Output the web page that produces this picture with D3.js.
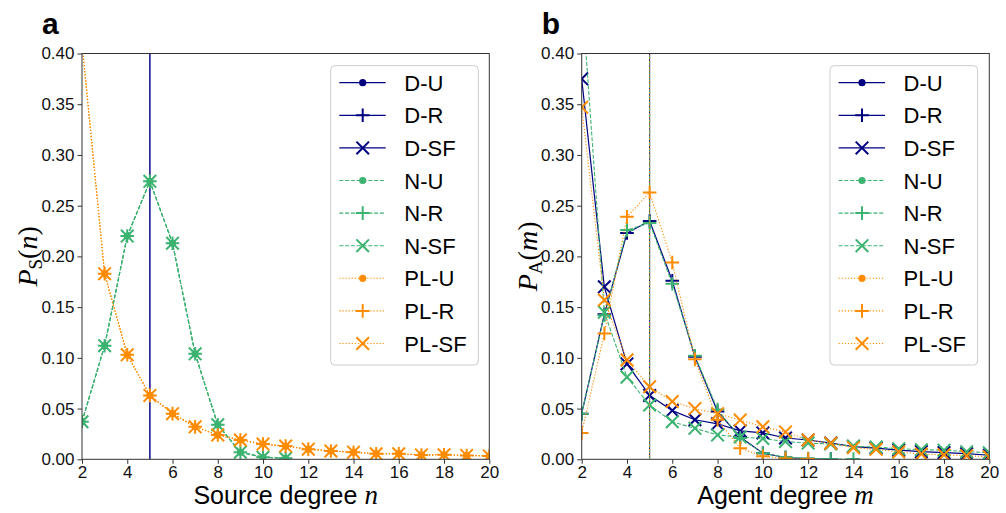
<!DOCTYPE html>
<html>
<head>
<meta charset="utf-8">
<script src="https://cdn.jsdelivr.net/npm/d3@7"></script>
<style>
  body { margin: 0; background: #fff; }
  svg text { font-family: "Liberation Sans", Arial, sans-serif; }
</style>
</head>
<body>
<div class="chart"></div>
<script>
  // ---- data ----
  const degrees = [2, 3, 4, 5, 6, 7, 8, 9, 10, 11, 12, 13, 14, 15, 16, 17, 18, 19, 20];
  const xTicks = [2, 4, 6, 8, 10, 12, 14, 16, 18, 20];
  const yTicks = [0, 0.05, 0.10, 0.15, 0.20, 0.25, 0.30, 0.35, 0.40];
  const seriesNames = ["D-U", "D-R", "D-SF", "N-U", "N-R", "N-SF", "PL-U", "PL-R", "PL-SF"];

  // a: source degree distribution (same for U, R, SF agent networks)
  const srcDelta = 5;      // D: every source has degree 5  -> P(5) = 1
  const srcN = [0.037, 0.112, 0.220, 0.274, 0.213, 0.104, 0.034, 0.007, 0.002, 0.001];
  const srcPL = [0.41, 0.183, 0.103, 0.063, 0.045, 0.032, 0.024, 0.019, 0.015, 0.013,
                 0.010, 0.0082, 0.007, 0.0055, 0.0055, 0.0043, 0.0045, 0.0038, 0.0033];

  // b: agent degree distribution
  const agentDelta = 5;    // U: every agent has degree 5 -> P(5) = 1
  const agentDR = [0.045, 0.143, 0.223, 0.235, 0.176, 0.101, 0.047, 0.022, 0.006, 0.0018, 0.0005, 0.0002];
  const agentDSF = [0.375, 0.170, 0.094, 0.063, 0.048, 0.039, 0.035, 0.028, 0.026, 0.021,
                    0.019, 0.016, 0.0125, 0.011, 0.009, 0.0075, 0.0065, 0.0055, 0.004];
  const agentNR = [0.045, 0.142, 0.226, 0.233, 0.173, 0.102, 0.049, 0.021, 0.006, 0.002, 0.0008, 0.0003, 0.0002];
  const agentNSF = [0.46, 0.145, 0.081, 0.0535, 0.037, 0.0305, 0.024, 0.022, 0.0205, 0.0175,
                    0.016, 0.015, 0.013, 0.012, 0.0105, 0.0095, 0.009, 0.0075, 0.0065];
  const agentPLR = [0.026, 0.124, 0.239, 0.263, 0.194, 0.0985, 0.039, 0.011, 0.003, 0.0008, 0.0003];
  const agentPLSF = [0.347, 0.157, 0.098, 0.0715, 0.057, 0.050, 0.045, 0.0387, 0.032, 0.027,
                     0.019, 0.0158, 0.0115, 0.0098, 0.0072, 0.0052, 0.0045, 0.0035, 0.0025];

  // ---- styles ----
  const familyStyle = {
    "D":  { color: "#000080", dash: null,      width: 1.2 },
    "N":  { color: "#3cb371", dash: "4,1.8",   width: 1.1 },
    "PL": { color: "#ff8c00", dash: "1.2,1.9", width: 1.1 }
  };
  const markerOf = name => name.split("-")[1];   // U -> dot, R -> plus, SF -> x

  const width = 1006;
  const height = 513;

  const svg = d3.select(".chart")
    .append("svg")
    .attr("width", width)
    .attr("height", height);

  function drawMarker(sel, kind, color) {
    if (kind === "U") {
      sel.append("circle").attr("r", 3.6).attr("fill", color);
    } else if (kind === "R") {
      sel.append("path").attr("d", "M-6.8,0H6.8M0,-6.8V6.8")
        .attr("stroke", color).attr("stroke-width", 2).attr("fill", "none");
    } else {
      sel.append("path").attr("d", "M-6.3,-6.3L6.3,6.3M-6.3,6.3L6.3,-6.3")
        .attr("stroke", color).attr("stroke-width", 2).attr("fill", "none");
    }
  }

  function drawPanel(p) {
    const x = d3.scaleLinear().domain([2, 20]).range([p.left, p.right]);
    const y = d3.scaleLinear().domain([0, 0.40]).range([p.bottom, p.top]);

    const g = svg.append("g");

    g.append("clipPath").attr("id", "clip-" + p.id)
      .append("rect")
      .attr("x", p.left).attr("y", p.top)
      .attr("width", p.right - p.left).attr("height", p.bottom - p.top);

    const plot = g.append("g").attr("clip-path", "url(#clip-" + p.id + ")");

    p.series.forEach(s => {
      const st = familyStyle[s.name.split("-")[0]];
      let pts;
      if (s.delta !== undefined) {
        pts = [[s.delta, 0], [s.delta, 1]];
      } else {
        pts = s.values.map((v, i) => [degrees[i], v]);
      }
      plot.append("path")
        .datum(pts)
        .attr("fill", "none")
        .attr("stroke", st.color)
        .attr("stroke-width", s.delta !== undefined ? 1 : st.width)
        .attr("stroke-opacity", s.delta !== undefined ? p.deltaOpacity : 1)
        .attr("stroke-dasharray", st.dash)
        .attr("d", d3.line().x(d => x(d[0])).y(d => y(d[1])));

      if (s.delta === undefined) {
        plot.selectAll(null)
          .data(pts)
          .enter()
          .append("g")
          .attr("transform", d => `translate(${x(d[0])},${y(d[1])})`)
          .each(function () { drawMarker(d3.select(this), markerOf(s.name), st.color); });
      }
    });

    // axes
    const xAxis = g.append("g")
      .attr("transform", `translate(0,${p.bottom})`)
      .call(d3.axisBottom(x).tickValues(xTicks).tickSize(4.5).tickPadding(2.5).tickFormat(d3.format("d")));
    const yAxis = g.append("g")
      .attr("transform", `translate(${p.left},0)`)
      .call(d3.axisLeft(y).tickValues(yTicks).tickSize(4.5).tickPadding(3).tickFormat(d3.format(".2f")));
    [xAxis, yAxis].forEach(a => {
      a.select(".domain").remove();
      a.selectAll("line").attr("stroke", "#333").attr("stroke-width", 1);
      a.selectAll("text").attr("font-size", 17).attr("fill", "#111")
        .style("font-family", "'Liberation Sans', Arial, sans-serif");
    });

    // frame
    g.append("rect")
      .attr("x", p.left).attr("y", p.top)
      .attr("width", p.right - p.left).attr("height", p.bottom - p.top)
      .attr("fill", "none").attr("stroke", "#333").attr("stroke-width", 1);

    // panel letter
    g.append("text")
      .attr("x", p.left - 40).attr("y", 34)
      .attr("font-size", 30).attr("font-weight", "bold").attr("fill", "#000")
      .text(p.letter);

    // x label
    const xl = g.append("text")
      .attr("x", (p.left + p.right) / 2).attr("y", 504)
      .attr("text-anchor", "middle").attr("font-size", 25).attr("fill", "#000");
    xl.append("tspan").text(p.xlabel + " ");
    xl.append("tspan").style("font-family", "'Liberation Serif', serif")
      .attr("font-style", "italic").attr("font-size", 27).text(p.xvar);

    // y label
    const yl = g.append("text")
      .attr("transform", `translate(${p.left - 45},${(p.top + p.bottom) / 2}) rotate(-90)`)
      .attr("text-anchor", "middle").attr("font-size", 28).attr("fill", "#000")
      .style("font-family", "'Liberation Serif', serif");
    yl.append("tspan").attr("font-style", "italic").text("P");
    yl.append("tspan").attr("font-size", 19).attr("dy", 5).text(p.ysub);
    yl.append("tspan").attr("dy", -5).text("(");
    yl.append("tspan").attr("font-style", "italic").text(p.xvar);
    yl.append("tspan").text(")");

    // legend
    const lg = g.append("g");
    const rowH = 32.6;
    const lx = p.legendX;
    lg.append("rect")
      .attr("x", lx).attr("y", 65.7)
      .attr("width", 147.6).attr("height", 299.3)
      .attr("rx", 4).attr("ry", 4)
      .attr("fill", "#fff").attr("fill-opacity", 0.8)
      .attr("stroke", "#cccccc").attr("stroke-width", 1);
    seriesNames.forEach((name, i) => {
      const st = familyStyle[name.split("-")[0]];
      const cy = 82.7 + i * rowH;
      lg.append("line")
        .attr("x1", lx + 8.6).attr("x2", lx + 55)
        .attr("y1", cy).attr("y2", cy)
        .attr("stroke", st.color).attr("stroke-width", st.width)
        .attr("stroke-dasharray", st.dash);
      const m = lg.append("g").attr("transform", `translate(${lx + 32},${cy})`);
      drawMarker(m, markerOf(name), st.color);
      lg.append("text")
        .attr("x", lx + 73.6).attr("y", cy + 8)
        .attr("font-size", 22).attr("fill", "#000")
        .text(name);
    });
  }

  drawPanel({
    id: "a", letter: "a",
    left: 82, right: 489.3, top: 53.5, bottom: 459.3,
    xlabel: "Source degree", xvar: "n", ysub: "S",
    legendX: 330.7, deltaOpacity: 0.7,
    series: [
      { name: "D-U", delta: srcDelta },
      { name: "D-R", delta: srcDelta },
      { name: "D-SF", delta: srcDelta },
      { name: "N-U", values: srcN },
      { name: "N-R", values: srcN },
      { name: "N-SF", values: srcN },
      { name: "PL-U", values: srcPL },
      { name: "PL-R", values: srcPL },
      { name: "PL-SF", values: srcPL }
    ]
  });

  drawPanel({
    id: "b", letter: "b",
    left: 581.7, right: 989.3, top: 53.5, bottom: 459.3,
    xlabel: "Agent degree", xvar: "m", ysub: "A",
    legendX: 830, deltaOpacity: 1,
    series: [
      { name: "D-U", delta: agentDelta },
      { name: "D-R", values: agentDR },
      { name: "D-SF", values: agentDSF },
      { name: "N-U", delta: agentDelta },
      { name: "N-R", values: agentNR },
      { name: "N-SF", values: agentNSF },
      { name: "PL-U", delta: agentDelta },
      { name: "PL-R", values: agentPLR },
      { name: "PL-SF", values: agentPLSF }
    ]
  });
</script>
</body>
</html>
